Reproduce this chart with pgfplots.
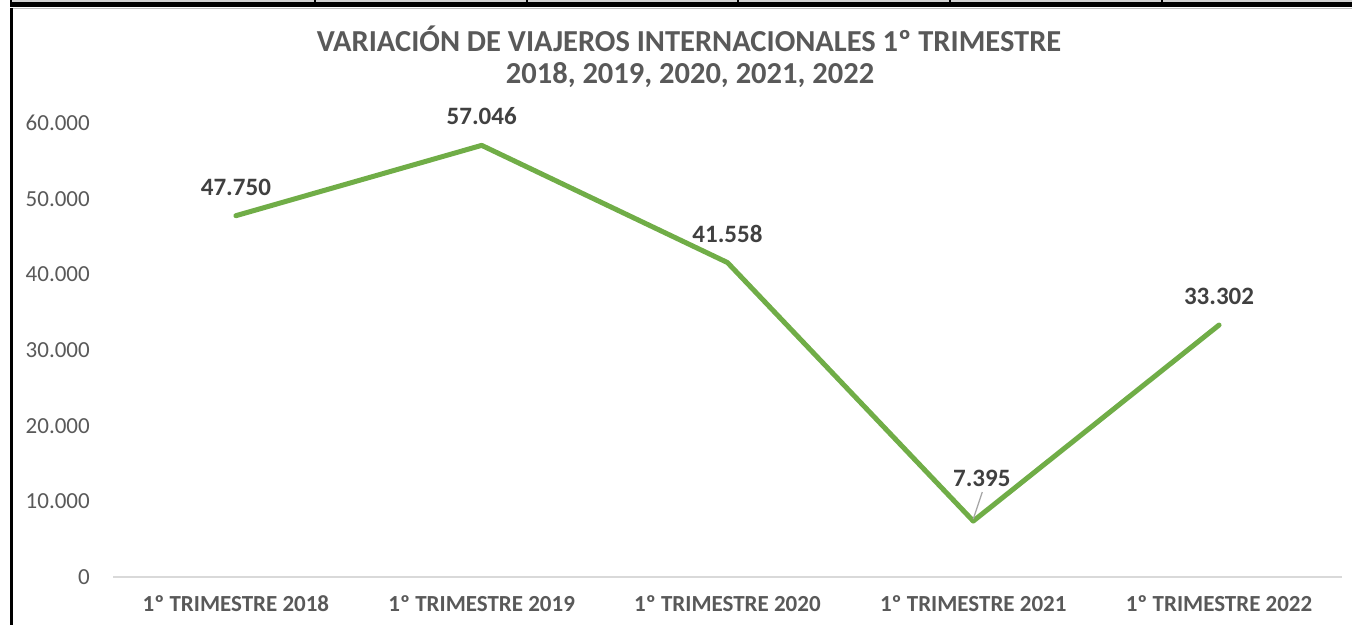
\documentclass[border=0pt]{standalone}
\usepackage{fontspec}
\setmainfont{Carlito}
\usepackage{pgfplots}
\pgfplotsset{compat=1.18}
\definecolor{lgreen}{HTML}{70AD47}
\definecolor{tgray}{HTML}{595959}
\definecolor{dgray}{HTML}{404040}
\definecolor{bgray}{HTML}{D9D9D9}
\begin{document}
\begin{tikzpicture}[x=1pt,y=1pt]
\useasboundingbox (0,0) rectangle (1352,625);
% surrounding frame (cut-off table above and chart border)
\fill[black] (10,618) rectangle (1352,625);
\fill[gray!35] (12,622.5) rectangle (1352,625);
\foreach \xx in {315,527,738,950,1162} \fill[black] (\xx-1,618) rectangle (\xx+1,625);
\draw[gray!50, line width=1pt] (12,616) -- (1352,616);
\fill[black] (10,0) rectangle (12.5,617);
\begin{axis}[
  at={(113pt,48pt)}, anchor=south west,
  scale only axis, width=1229pt, height=454pt,
  xmin=-0.5, xmax=4.5, ymin=0, ymax=60000,
  axis x line=bottom, axis y line=left,
  x axis line style={draw=bgray, line width=1.3pt, -},
  y axis line style={draw=none},
  major tick length=0pt, tick style={draw=none},
  clip=false,
  xtick={0,1,2,3,4},
  xticklabels={1º TRIMESTRE 2018,1º TRIMESTRE 2019,1º TRIMESTRE 2020,1º TRIMESTRE 2021,1º TRIMESTRE 2022},
  xticklabel style={anchor=base, inner sep=0pt, yshift=-34.4pt, font=\fontsize{23}{27}\selectfont\bfseries, text=tgray},
  ytick={0,10000,20000,30000,40000,50000,60000},
  scaled y ticks=false,
  yticklabel={\pgfmathprintnumber[fixed,precision=0,1000 sep={.},assume math mode=true]{\tick}},
  yticklabel style={anchor=east, inner sep=0pt, xshift=-23pt, font=\fontsize{23}{27}\selectfont, text=tgray},
]
\addplot[color=lgreen, line width=5pt, line join=round, line cap=round, mark=none]
  coordinates {(0,47750) (1,57046) (2,41558) (3,7395) (4,33302)};
\addplot[draw=none, mark=none, nodes near coords={\pgfmathprintnumber[fixed,precision=0,1000 sep={.},assume math mode=true]{\pgfplotspointmeta}},
  every node near coord/.append style={anchor=base, inner sep=0pt, yshift=20.5pt, font=\fontsize{25}{29}\selectfont\bfseries, text=dgray}]
  coordinates {(0,47750) (1,57046) (2,41558) (4,33302)};
\addplot[draw=none, mark=none, nodes near coords={\pgfmathprintnumber[fixed,precision=0,1000 sep={.},assume math mode=true]{\pgfplotspointmeta}},
  every node near coord/.append style={anchor=base, inner sep=0pt, yshift=35pt, xshift=8.5pt, font=\fontsize{25}{29}\selectfont\bfseries, text=dgray}]
  coordinates {(3,7395)};
\draw[gray!70, line width=1.2pt] (axis cs:3,7395) ++(0pt,2pt) -- ++(9pt,27pt);
\end{axis}
\node[anchor=base, inner sep=0pt, text=tgray, font=\fontsize{30.5}{36}\selectfont\bfseries] at (689,573) {VARIACIÓN DE VIAJEROS INTERNACIONALES 1º TRIMESTRE};
\node[anchor=base, inner sep=0pt, text=tgray, font=\fontsize{30.5}{36}\selectfont\bfseries] at (690,541) {2018, 2019, 2020, 2021, 2022};
\end{tikzpicture}
\end{document}
